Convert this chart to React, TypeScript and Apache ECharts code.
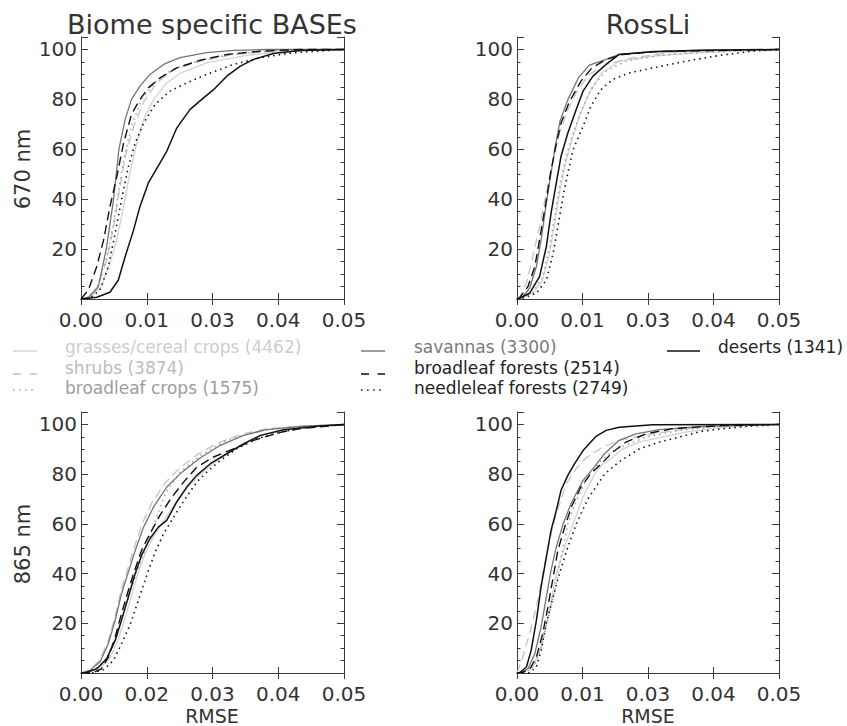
import React, { useEffect, useRef } from "react";
import * as echarts from "echarts";

// ---------- labels ----------
const panelTitles = ["Biome specific BASEs", "RossLi"];
const rowNames = ["670 nm", "865 nm"];
const xAxisName = "RMSE";
const xTickLabels: string[][] = [
  ["0.00", "0.01", "0.03", "0.04", "0.05"],
  ["0.00", "0.01", "0.03", "0.04", "0.05"],
  ["0.00", "0.02", "0.03", "0.04", "0.05"],
  ["0.00", "0.01", "0.03", "0.04", "0.05"],
];
const yTickValues = [20, 40, 60, 80, 100];
const biomes = [
  "grasses/cereal crops",
  "shrubs",
  "broadleaf crops",
  "savannas",
  "broadleaf forests",
  "needleleaf forests",
  "deserts",
];
const biomeCounts = [4462, 3874, 1575, 3300, 2514, 2749, 1341];

// ---------- data: [RMSE, cumulative %] ----------
// 670 nm, Biome specific BASEs
const tl_grasses = [[0,0],[0.0017,0.5],[0.0039,5],[0.0055,14.3],[0.0068,23.7],[0.0081,37],[0.0093,50.5],[0.0103,60],[0.0119,72],[0.0138,80],[0.0163,86.6],[0.0188,90.4],[0.0239,94.6],[0.0315,97.6],[0.0391,99.3],[0.048,100],[0.05,100]];
const tl_shrubs = [[0,0],[0.0011,0.5],[0.003,3.6],[0.0049,15.7],[0.0062,29],[0.0071,41],[0.0084,57],[0.01,69],[0.0119,79],[0.0144,86.6],[0.0176,92],[0.0227,95.3],[0.029,98],[0.0366,99.3],[0.0449,100],[0.05,100]];
const tl_crops = [[0,0],[0.0011,0.5],[0.003,4.3],[0.0049,17],[0.0062,30.4],[0.0071,42.4],[0.0081,55.8],[0.0096,69.2],[0.0115,79.9],[0.0141,86.9],[0.0173,92],[0.0227,95.7],[0.029,98.3],[0.0366,99.6],[0.0449,100],[0.05,100]];
const tl_savannas = [[0,0],[0.0014,0.5],[0.0033,5],[0.0048,20],[0.0062,40],[0.0072,60],[0.0084,72],[0.0096,80],[0.0112,85.3],[0.0131,90],[0.0157,94],[0.0188,96.7],[0.0239,98.7],[0.029,99.6],[0.0353,100],[0.05,100]];
const tl_forests = [[0,0],[0.0004,1],[0.0014,3.6],[0.003,13],[0.0043,23.7],[0.0055,37],[0.0068,49],[0.0081,62.5],[0.0096,74],[0.0112,80],[0.0128,84.6],[0.015,88.6],[0.0182,92.6],[0.0227,95.7],[0.0277,98],[0.0341,99.3],[0.0417,100],[0.05,100]];
const tl_needle = [[0,0],[0.0017,0.3],[0.0036,3.6],[0.0052,13],[0.0065,26.4],[0.0077,39.8],[0.009,53],[0.0103,62.5],[0.0119,70.5],[0.0141,78],[0.0169,83.3],[0.0201,86.6],[0.0239,90],[0.029,94],[0.0341,96.7],[0.0404,98.7],[0.05,100]];
const tl_deserts = [[0,0],[0.003,0.7],[0.0055,2.7],[0.0071,7.6],[0.0084,17],[0.01,27.7],[0.0112,37],[0.0128,46.5],[0.015,54.5],[0.0163,59.2],[0.0182,68.5],[0.0207,75.9],[0.0233,80.6],[0.0252,83.9],[0.0277,89.3],[0.0303,93.3],[0.0328,96],[0.0366,98.4],[0.0417,99.6],[0.05,100]];

// 670 nm, RossLi
const tr_grasses = [[0,0],[0.0005,0.3],[0.003,2.3],[0.0049,7.6],[0.0062,18.3],[0.0072,30.4],[0.0081,42.4],[0.0091,53.1],[0.0103,62.5],[0.0119,73.2],[0.0138,82.6],[0.0161,90.6],[0.0195,95.3],[0.0259,97.3],[0.0322,98.3],[0.0417,99.3],[0.05,100]];
const tr_shrubs = [[0,0],[0.0005,0.9],[0.0018,6.3],[0.003,17],[0.0043,29],[0.0056,42.4],[0.0069,55.8],[0.0081,66.5],[0.0097,75.9],[0.0116,83.9],[0.0138,90],[0.017,94],[0.0221,96.7],[0.0291,98.7],[0.0386,99.7],[0.05,100]];
const tr_crops = [[0,0],[0.0005,0.3],[0.003,2.5],[0.0049,9],[0.0062,21],[0.0072,33],[0.0081,45.1],[0.0094,57.2],[0.0107,66.5],[0.0126,77.2],[0.0145,85.3],[0.017,91.3],[0.0208,95.3],[0.0272,97.6],[0.0354,98.9],[0.05,100]];
const tr_savannas = [[0,0],[0.0011,0.9],[0.0024,4.3],[0.0037,13],[0.0046,23.7],[0.0056,38.4],[0.0065,50.5],[0.0073,61.2],[0.0082,71.2],[0.0097,79.9],[0.0117,88.6],[0.0138,93.7],[0.017,96],[0.0195,98],[0.0259,99.2],[0.0354,99.7],[0.05,100]];
const tr_forests = [[0,0],[0.0005,0.5],[0.0021,5],[0.0034,13],[0.0043,23.7],[0.0055,38.4],[0.0064,50.5],[0.0074,61.2],[0.0084,70.5],[0.0099,78.6],[0.0122,87.3],[0.0143,92.6],[0.017,96],[0.0202,98],[0.0259,99.1],[0.05,100]];
const tr_needle = [[0,0],[0.0011,0.3],[0.0037,2.3],[0.0056,7.6],[0.0069,18.3],[0.0078,29],[0.0088,41.1],[0.0097,50.5],[0.0107,59.8],[0.0126,69.2],[0.0141,77.2],[0.016,83.9],[0.0183,88],[0.0214,90.6],[0.0259,92.6],[0.0322,95.3],[0.0386,97.6],[0.0449,99.3],[0.05,100]];
const tr_deserts = [[0,0],[0.0005,0.3],[0.0024,2.3],[0.0043,9],[0.0056,21],[0.0065,34.4],[0.0075,46.5],[0.0084,57.2],[0.0097,66.5],[0.0113,75.9],[0.0126,83.3],[0.0145,89.3],[0.017,94],[0.0195,98],[0.0259,99.1],[0.0354,99.7],[0.05,100]];

// 865 nm, Biome specific BASEs
const bl_grasses = [[0,0],[0.0015,0.4],[0.0036,2],[0.0055,6],[0.007,13],[0.0083,21.5],[0.0096,31],[0.0108,40],[0.0122,48],[0.0138,55],[0.0155,60.5],[0.0175,67],[0.0198,73.5],[0.0222,79],[0.025,84],[0.028,88.5],[0.031,92.5],[0.0345,95.5],[0.039,98],[0.045,99.5],[0.05,100]];
const bl_shrubs = [[0,0],[0.0015,1],[0.0035,5],[0.0051,12.5],[0.0064,22],[0.0076,33],[0.0089,42],[0.0102,51],[0.0117,60.5],[0.0135,68.5],[0.016,76.5],[0.0188,82.5],[0.0222,88],[0.026,92.5],[0.0305,96],[0.035,98.2],[0.0417,99.3],[0.05,100]];
const bl_crops = [[0,0],[0.0017,0.4],[0.0043,3.8],[0.0062,11.8],[0.0081,24],[0.0096,34.6],[0.0112,44],[0.0135,57.4],[0.016,72],[0.0188,80.8],[0.0227,87.5],[0.0277,93.6],[0.0341,97.6],[0.0417,99.2],[0.05,100]];
const bl_savannas = [[0,0],[0.0017,1.1],[0.0036,4.4],[0.0052,11.8],[0.0065,21.2],[0.0077,31.9],[0.009,40.6],[0.0103,49.3],[0.0119,58.7],[0.0138,66.8],[0.0163,74.8],[0.0192,80.8],[0.0227,86.6],[0.0265,91.6],[0.0309,95.6],[0.0353,97.9],[0.0417,99.2],[0.05,100]];
const bl_forests = [[0,0],[0.0023,0.1],[0.0039,1.7],[0.0052,6.4],[0.0065,14.5],[0.0077,23.9],[0.009,33.2],[0.01,40],[0.0115,49.3],[0.0131,56],[0.015,63.4],[0.0173,70.8],[0.0195,76.8],[0.022,82.8],[0.0252,86.9],[0.029,90.2],[0.0328,93.6],[0.0381,96.9],[0.0417,98.3],[0.05,99.9]];
const bl_needle = [[0,0],[0.0023,0.1],[0.0043,1.3],[0.0062,5.1],[0.0077,11.8],[0.0093,19.2],[0.0109,29.2],[0.0125,39.3],[0.0141,48.7],[0.0157,56],[0.0176,62.7],[0.0198,70.1],[0.022,76.8],[0.0239,80.8],[0.0265,85.5],[0.0296,90.2],[0.0334,94.2],[0.0379,96.9],[0.043,98.9],[0.05,99.9]];
const bl_deserts = [[0,0],[0.0011,0.3],[0.003,1.7],[0.0049,5.8],[0.0065,13.1],[0.0077,21.2],[0.009,30.6],[0.0103,40],[0.0115,47.3],[0.0131,54],[0.0147,58.7],[0.0163,61.4],[0.0182,68.8],[0.0201,74.8],[0.022,79.5],[0.0246,84.2],[0.0277,88.2],[0.0309,92.2],[0.0341,95.6],[0.0385,97.9],[0.0449,99.3],[0.05,100]];

// 865 nm, RossLi
const br_grasses = [[0,0],[0.0011,0.3],[0.003,2.4],[0.0046,10.5],[0.0062,25.2],[0.0075,39.9],[0.0091,50.7],[0.0107,59.9],[0.0126,70.8],[0.0148,80],[0.0164,84.2],[0.0183,86.9],[0.0202,90.1],[0.0233,92.9],[0.0278,95],[0.0322,96.9],[0.0386,98.7],[0.0449,99.6],[0.05,100]];
const br_shrubs = [[0,0],[0.0002,1.1],[0.0011,6.4],[0.0024,15.8],[0.0037,26.5],[0.0049,39.9],[0.0062,53.4],[0.0075,64.1],[0.0094,76.1],[0.0113,82.2],[0.0132,86.6],[0.0164,90.9],[0.0195,93.6],[0.0259,96.2],[0.0322,98.3],[0.0386,99.2],[0.05,100]];
const br_crops = [[0,0],[0.0018,0.3],[0.0034,3.1],[0.0046,10.5],[0.0059,21.2],[0.0072,33.2],[0.0084,46.6],[0.0097,59.9],[0.0113,69.4],[0.0138,80],[0.0164,86.2],[0.0189,90.1],[0.0246,94.9],[0.031,97.6],[0.0386,99.2],[0.05,100]];
const br_savannas = [[0,0],[0.0005,0.1],[0.0021,1.7],[0.0034,7.8],[0.0046,18.5],[0.0056,30.6],[0.0065,41.3],[0.0075,50.7],[0.0088,59.9],[0.0103,68.1],[0.0126,77.5],[0.0145,82.2],[0.0167,88.2],[0.0195,93.6],[0.0227,96.2],[0.0272,97.9],[0.0354,99.2],[0.05,100]];
const br_forests = [[0,0],[0.0011,0.3],[0.0024,1.3],[0.0037,6.4],[0.0049,15.8],[0.0059,26.5],[0.0069,38.6],[0.0078,49.3],[0.0091,58.7],[0.0105,67.4],[0.0122,74.8],[0.0141,80.2],[0.0161,84.2],[0.0183,88.9],[0.0208,92.9],[0.0246,96.2],[0.0297,98.3],[0.0386,99.5],[0.05,100]];
const br_needle = [[0,0],[0.0024,0.1],[0.0037,2.4],[0.0046,9.1],[0.0056,20],[0.0069,30.6],[0.0081,40],[0.0097,50.7],[0.0113,59.9],[0.0135,70],[0.0167,80],[0.0195,85],[0.0233,90.1],[0.0272,92.9],[0.031,95],[0.0354,97.3],[0.0386,98.1],[0.0437,99.2],[0.05,100]];
const br_deserts = [[0,0],[0.0005,0.1],[0.0018,2.4],[0.0027,9.1],[0.0037,21.2],[0.0046,34.6],[0.0056,46.6],[0.0065,57.4],[0.0075,65.4],[0.0084,73.5],[0.0097,79.5],[0.011,84.2],[0.0126,89.5],[0.0151,95.2],[0.017,97.6],[0.0195,98.9],[0.0259,99.9],[0.05,100]];

const panels = [
  [tl_grasses, tl_shrubs, tl_crops, tl_savannas, tl_forests, tl_needle, tl_deserts],
  [tr_grasses, tr_shrubs, tr_crops, tr_savannas, tr_forests, tr_needle, tr_deserts],
  [bl_grasses, bl_shrubs, bl_crops, bl_savannas, bl_forests, bl_needle, bl_deserts],
  [br_grasses, br_shrubs, br_crops, br_savannas, br_forests, br_needle, br_deserts],
];

// ---------- styles ----------
const FONT = '"DejaVu Sans", sans-serif';
const AX = "#3a3a3a";
const DASH = [9, 5];
const DOT = [1.5, 4];
const styles = [
  { color: "#d2d2d2", type: "solid" as any, width: 1.3, text: "#cdcdcd" },
  { color: "#c2c2c2", type: DASH as any, width: 1.3, text: "#bcbcbc" },
  { color: "#a0a0a0", type: DOT as any, width: 1.5, text: "#9c9c9c" },
  { color: "#747474", type: "solid" as any, width: 1.3, text: "#7a7a7a" },
  { color: "#111111", type: DASH as any, width: 1.4, text: "#222222" },
  { color: "#111111", type: DOT as any, width: 1.6, text: "#222222" },
  { color: "#111111", type: "solid" as any, width: 1.5, text: "#222222" },
];

const grids = [
  { left: 81, top: 37, width: 263, height: 262 },
  { left: 517, top: 37, width: 262, height: 262 },
  { left: 81, top: 412, width: 263, height: 261 },
  { left: 517, top: 412, width: 262, height: 261 },
];

function buildOption() {
  const xAxis: any[] = [];
  const yAxis: any[] = [];
  const series: any[] = [];
  grids.forEach((_, i) => {
    const labels = xTickLabels[i];
    const baseX = {
      gridIndex: i, type: "value", min: 0, max: 0.05, interval: 0.0125,
      splitLine: { show: false },
      axisLine: { show: true, lineStyle: { color: AX, width: 1 } },
      axisTick: { show: true, inside: true, length: 6, lineStyle: { color: AX } },
    };
    xAxis.push({
      ...baseX, position: "bottom",
      axisLabel: {
        show: true, margin: 11, fontFamily: FONT, fontSize: 20, color: "#333",
        showMinLabel: true, showMaxLabel: true,
        formatter: (v: number) => labels[Math.round(v / 0.0125)] ?? "",
      },
    });
    xAxis.push({ ...baseX, position: "top", axisLabel: { show: false } });

    const baseY = {
      gridIndex: i, type: "value", min: 0, max: 105,
      splitLine: { show: false },
    };
    yAxis.push({
      ...baseY, position: "left", interval: 20,
      axisLine: { show: true, lineStyle: { color: AX, width: 1 } },
      axisTick: { show: true, inside: true, length: 7, lineStyle: { color: AX } },
      axisLabel: {
        show: true, margin: 4, fontFamily: FONT, fontSize: 20, color: "#333",
        formatter: (v: number) => (yTickValues.indexOf(Math.round(v)) >= 0 ? String(Math.round(v)) : ""),
      },
    });
    yAxis.push({
      ...baseY, position: "left", interval: 5,
      axisLine: { show: false },
      axisTick: { show: true, inside: true, length: 3.5, lineStyle: { color: AX } },
      axisLabel: { show: false },
    });
    yAxis.push({
      ...baseY, position: "right", interval: 20,
      axisLine: { show: true, lineStyle: { color: AX, width: 1 } },
      axisTick: { show: true, inside: true, length: 7, lineStyle: { color: AX } },
      axisLabel: { show: false },
    });
    yAxis.push({
      ...baseY, position: "right", interval: 5,
      axisLine: { show: false },
      axisTick: { show: true, inside: true, length: 3.5, lineStyle: { color: AX } },
      axisLabel: { show: false },
    });

    panels[i].forEach((data, k) => {
      const s = styles[k];
      series.push({
        type: "line",
        name: biomes[k],
        xAxisIndex: 2 * i,
        yAxisIndex: 4 * i,
        data,
        showSymbol: false,
        symbol: "none",
        smooth: false,
        z: 2 + k,
        lineStyle: { color: s.color, type: s.type, width: s.width, cap: "butt" },
      });
    });
  });

  const graphic: any[] = [];
  const txt = (text: string, x: number, y: number, size: number, fill: string, align = "center", rotation = 0) => ({
    type: "text", x, y, rotation,
    style: { text, font: `${size}px ${FONT}`, fill, textAlign: align, textVerticalAlign: "middle" },
  });
  graphic.push(txt(panelTitles[0], 212, 24, 27, "#333"));
  graphic.push(txt(panelTitles[1], 648, 24, 27, "#333"));
  graphic.push(txt(rowNames[0], 23, 169, 21, "#333", "center", Math.PI / 2));
  graphic.push(txt(rowNames[1], 23, 544, 21, "#333", "center", Math.PI / 2));
  graphic.push(txt(xAxisName, 212, 716, 19, "#333"));
  graphic.push(txt(xAxisName, 648, 716, 19, "#333"));

  // legend
  const cols = [
    { lx1: 13, lx2: 37, tx: 65 },
    { lx1: 361, lx2: 385, tx: 414 },
    { lx1: 667, lx2: 700, tx: 718 },
  ];
  const rowsText = [347, 368, 388];
  const rowsLine = [351, 374, 390];
  const place = [[0, 0], [0, 1], [0, 2], [1, 0], [1, 1], [1, 2], [2, 0]];
  const legendDash = [[], [8, 8.6], [1.5, 4.6], [], [8, 8.6], [1.5, 4.6], []];
  biomes.forEach((b, k) => {
    const [c, r] = place[k];
    const col = cols[c];
    const s = styles[k];
    graphic.push({
      type: "line",
      shape: { x1: col.lx1, y1: rowsLine[r], x2: col.lx2, y2: rowsLine[r] },
      style: { stroke: s.color, lineWidth: k >= 4 ? 1.6 : 1.4, lineDash: legendDash[k].length ? legendDash[k] : null },
    });
    graphic.push(txt(`${b} (${biomeCounts[k]})`, col.tx, rowsText[r], 17, s.text, "left"));
  });

  return {
    animation: false,
    backgroundColor: "#ffffff",
    grid: grids.map((g) => ({ ...g, containLabel: false })),
    xAxis,
    yAxis,
    series,
    graphic,
  };
}

export default function App() {
  const ref = useRef<HTMLDivElement>(null);
  useEffect(() => {
    if (!ref.current) return;
    const chart = echarts.init(ref.current, undefined, { renderer: "svg" });
    chart.setOption(buildOption() as any);
    return () => chart.dispose();
  }, []);
  return (
    <div
      ref={ref}
      style={{ position: "absolute", left: 0, top: 0, width: 847, height: 726, background: "#fff" }}
    />
  );
}
